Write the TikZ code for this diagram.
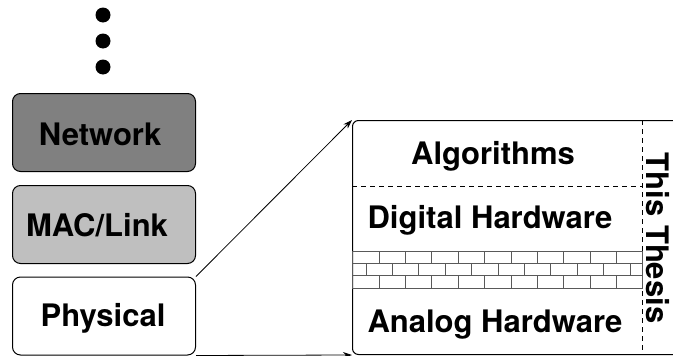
\documentclass[tikz,border=0pt]{standalone}
\usepackage{fontspec}
\setmainfont{TeX Gyre Heros}
\usetikzlibrary{arrows.meta}

\def\fsize{31}

\tikzset{
  layer/.style={draw, line width=1pt, rounded corners=8pt, minimum width=183pt,
    minimum height=78pt, anchor=center},
  label/.style={anchor=center, font=\fontsize{\fsize}{36}\selectfont\bfseries},
  sep/.style={dash pattern=on 5pt off 4pt, line width=0.8pt},
  brick/.style={draw=black!65, line width=0.9pt},
}

\begin{document}
\begin{tikzpicture}[x=1pt, y=-1pt]
      \useasboundingbox (0,0) rectangle (673,356);
      % the rest of the stack
      \foreach \y [count=\i] in {15,41,67}
        \node[circle, fill, inner sep=0, minimum size=15pt] (dot\i) at (103,\y) {};
      \node[layer, fill=black!50] (net) at (104,132.5) {};
      \node[layer, fill=black!25] (mac) at (104,224.5) {};
      \node[layer, fill=white] (phys) at (104,316) {};
      \node[label] (netlbl) at (100,134) {Network};
      \node[label] (maclbl) at (97,225) {MAC/Link};
      \node[label] (physlbl) at (103,318) {Physical};
      % physical layer blown up
      \node[draw, line width=1pt, rounded corners=6pt, minimum width=338pt,
        minimum height=234pt, anchor=north west] (stack) at (352,120) {};
      \draw[sep] (642,120) -- (642,354);
      \draw[sep] (352,186) -- (642,186);
      \draw[brick] (352,251) rectangle (642,288);
      \draw[brick] (352,263.3) -- (642,263.3) (352,275.7) -- (642,275.7);
      \foreach \k in {0,...,9} {
        \draw[brick] (379+26.4*\k,251) -- (379+26.4*\k,263.3);
        \draw[brick] (379+26.4*\k,275.7) -- (379+26.4*\k,288);
      }
      \foreach \k in {0,...,10}
        \draw[brick] (366+26.4*\k,263.3) -- (366+26.4*\k,275.7);
      \node[label] (algo) at (493,156) {Algorithms};
      \node[label] (digital) at (490,220) {Digital Hardware};
      \node[label] (analog) at (495,325) {Analog Hardware};
      \node[label, rotate=-90] (thesis) at (658,238) {This Thesis};
      \draw[line width=0.8pt, -{Stealth[length=9pt,width=6pt]}] (phys.north east) -- (stack.north west);
      \draw[line width=0.8pt, -{Stealth[length=9pt,width=6pt]}] (phys.south east) -- (stack.south west);
    \end{tikzpicture}
\end{document}
